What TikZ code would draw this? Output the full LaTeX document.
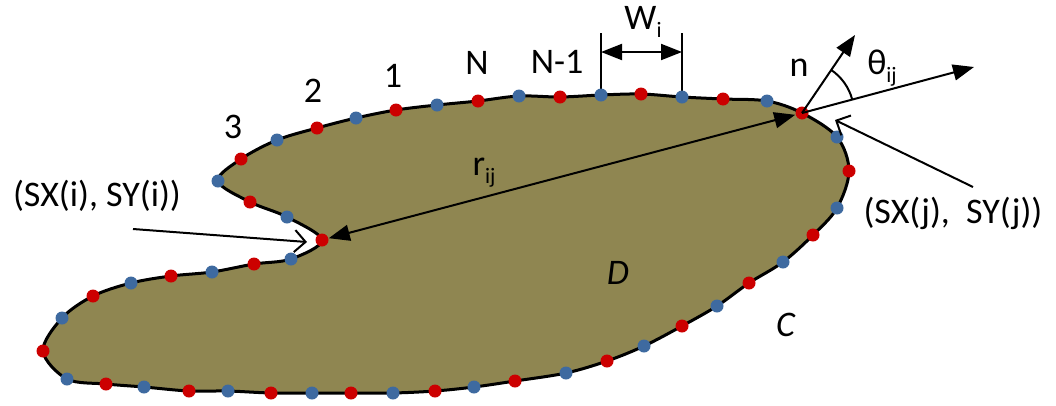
\documentclass[tikz,border=0pt]{standalone}
\usepackage{fontspec}
\setmainfont{Carlito}
\usetikzlibrary{arrows.meta}
\definecolor{fillc}{RGB}{143,134,81}
\definecolor{dotred}{RGB}{204,0,0}
\definecolor{dotblue}{RGB}{62,106,160}
\newcommand{\mysub}[1]{\raisebox{-0.22em}{\fontsize{22}{25}\selectfont #1}}
\begin{document}
\begin{tikzpicture}[x=1pt,y=-1pt,
  lbl/.style={font=\fontsize{36}{42}\selectfont, inner sep=0pt, text=black},
  outline/.style={line width=3pt, fill=fillc, line join=round},
  arr/.style={line width=2pt, -{Triangle[length=21pt,width=16pt]}},
  dblarr/.style={line width=2pt, {Triangle[length=21pt,width=16pt]}-{Triangle[length=21pt,width=16pt]}},
  openarr/.style={line width=2pt, -{Straight Barb[length=11pt,width=22pt,line width=2pt]}},
  thinline/.style={line width=2pt}]
\useasboundingbox (0,0) rectangle (1056,405);
\foreach \px/\py [count=\k] in {322/240, 291/259, 254/264, 212/272, 171/276, 131/283, 93/296, 62/318, 43/351, 67/379,
  106/384, 144/387, 189/391, 228/391, 271/393, 312/393, 351/393, 393/393, 435/391, 474/387,
  515/381, 566/373, 607/361, 644/346, 682/326, 717/306, 749/283, 783/262, 813/235, 837/208,
  849/171, 837/137, 802/113, 767/101, 723/99, 682/97, 641/94, 601/95, 560/97, 519/96,
  478/101, 437/105, 396/110, 356/118, 317/128, 277/140, 241/159, 218/181, 250/202, 287/217}
  { \coordinate (p\k) at (\px,\py); }
\draw[outline] plot[smooth cycle, tension=0.55] coordinates {(p1) (p2) (p3) (p4) (p5) (p6) (p7) (p8) (p9) (p10)
  (p11) (p12) (p13) (p14) (p15) (p16) (p17) (p18) (p19) (p20)
  (p21) (p22) (p23) (p24) (p25) (p26) (p27) (p28) (p29) (p30)
  (p31) (p32) (p33) (p34) (p35) (p36) (p37) (p38) (p39) (p40)
  (p41) (p42) (p43) (p44) (p45) (p46) (p47) (p48) (p49) (p50)};
% r_ij
\draw[dblarr, shorten <=7pt, shorten >=7pt] (p1) -- (p33);
% W_i
\coordinate (wa) at (601,33);
\coordinate (wb) at (682,33);
\draw[thinline] (p38) -- (wa);
\draw[thinline] (p36) -- (wb);
\draw[dblarr] ([yshift=-19pt]wa) -- ([yshift=-19pt]wb);
% dots
\foreach \k in {1,3,...,49} { \fill[dotred] (p\k) circle[radius=6.5pt]; }
\foreach \k in {2,4,...,50} { \fill[dotblue] (p\k) circle[radius=6.5pt]; }
% normal and direction
\coordinate (ntip) at (855,35);
\coordinate (ttip) at (974,67);
\draw[arr] (p33) -- (ntip);
\draw[arr] (p33) -- (ttip);
\draw[thinline] (p33) ++(-15:52) arc[start angle=-15, end angle=-56, radius=52];
% pointer arrows
\coordinate (si) at (133,229);
\coordinate (sie) at (307,242);
\coordinate (sj) at (973,187);
\coordinate (sje) at (835,120);
\draw[openarr] (si) -- (sie);
\draw[openarr] (sj) -- (sje);
% labels
\node[lbl] (l3) at (233,127) {3};
\node[lbl] (l2) at (313,91) {2};
\node[lbl] (l1) at (393,76) {1};
\node[lbl] (lN) at (477,63) {N};
\node[lbl] (lN1) at (557,62) {N-1};
\node[lbl] (lW) at (643,22) {W\mysub{i}};
\node[lbl] (ln) at (799,68) {n};
\node[lbl] (lth) at (882,68) {θ\mysub{ij}};
\node[lbl] (lr) at (484,173) {r\mysub{ij}};
\node[lbl] (lD) at (618,273) {\textit{D}};
\node[lbl] (lC) at (786,325) {\textit{C}};
\node[lbl] (lsi) at (97,196) {(SX(i), SY(i))};
\node[lbl] (lsj) at (953,213) {(SX(j),\ \ SY(j))};
\end{tikzpicture}
\end{document}
